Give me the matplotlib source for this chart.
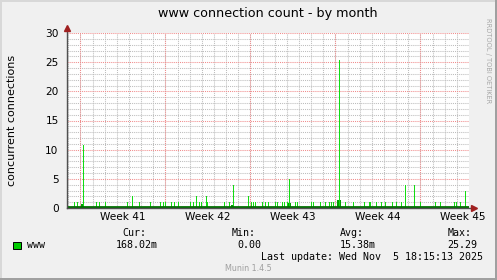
import numpy as np
import matplotlib
matplotlib.use("Agg")
import matplotlib.pyplot as plt

# data (x in days since graph start, 33 days shown)
range_days = 33.0
spike_days = [0.60, 0.85, 1.34, 2.34, 2.59, 3.14, 4.95, 5.36, 5.94, 6.84,
              7.66, 7.91, 8.07, 8.56, 8.81, 9.14, 10.12, 10.37, 10.61, 10.86,
              11.02, 11.44, 11.53, 12.91, 13.30, 13.65, 14.88, 15.10, 15.27, 15.43,
              16.03, 16.28, 16.50, 17.07, 17.20, 17.69, 17.85, 18.02, 18.22, 18.72,
              18.84, 20.07, 20.19, 20.79, 21.20, 21.51, 21.67, 21.84, 22.35, 22.86,
              23.50, 24.38, 24.83, 24.91, 25.34, 25.75, 26.13, 26.68, 27.03, 27.39,
              27.77, 28.51, 28.98, 30.23, 30.62, 31.79, 31.97, 32.30, 32.70]
spike_vals = [1, 1, 10.8, 1, 1, 1, 1, 2, 1, 1,
              1, 1, 1, 1, 1, 1, 1, 1, 2, 1,
              1, 2, 1, 1, 1, 4, 2, 1, 1, 1,
              1, 1, 1, 1, 1, 1, 1, 1, 5, 1,
              1, 1, 1, 1, 1, 1, 1, 1, 25.29, 1,
              1, 1, 1, 1, 1, 1, 1, 1, 1, 1,
              4, 4, 1, 1, 1, 1, 1, 1, 3]
# low wide plateaus
block_days = [1.30, 13.62, 18.25, 22.35]
block_vals = [0.7, 0.5, 0.8, 1.4]
block_width = [0.25, 0.25, 0.25, 0.35]
base_level = 0.12

week_starts = [1.1, 8.05, 15.05, 22.0, 28.98]
week_labels = ["Week 41", "Week 42", "Week 43", "Week 44", "Week 45"]
y_ticks = [0, 5, 10, 15, 20, 25, 30]

legend_name = "www"
cur_val, min_val, avg_val, max_val = "168.02m", "0.00", "15.38m", "25.29"
last_update = "Last update: Wed Nov  5 18:15:13 2025"

W, H = 497, 280
green = "#00cc00"
mono = "DejaVu Sans Mono"


def fx(x):
    return x / W


def fy(y):
    return 1 - y / H


fig = plt.figure(figsize=(W / 100, H / 100), dpi=100, facecolor="#f0f0f0")
ax = fig.add_axes([fx(67), fy(208), 402 / W, 175 / H])
ax.set_facecolor("white")
ax.set_xlim(0, range_days)
ax.set_ylim(0, 30)

# grid
dot = (0, (1, 1))
minor_x = np.arange(week_starts[0] - 1, range_days, 0.997)
for d in minor_x:
    ax.axvline(d, color="#bdbdbd", lw=0.75, ls=dot, zorder=1)
for d in week_starts:
    ax.axvline(d, color="#f08c8c", lw=0.75, ls=dot, zorder=1.5)
for v in range(1, 31):
    if v % 5:
        ax.axhline(v, color="#bdbdbd", lw=0.75, ls=dot, zorder=1)
for v in y_ticks[1:]:
    ax.axhline(v, color="#f08c8c", lw=0.75, ls=dot, zorder=1.5)

# data
ax.bar(block_days, block_vals, width=block_width, color="#00a000", zorder=3)
ax.vlines(spike_days, 0, spike_vals, color="#11dd11", lw=0.72, zorder=3,
          antialiased=False)
ax.axhline(base_level, color="#007000", lw=2.0, zorder=3)

for s in ax.spines.values():
    s.set_visible(False)
ax.set_xticks([d + 3.5 for d in week_starts])
ax.set_xticklabels(week_labels, fontsize=7.6)
ax.set_yticks(y_ticks)
ax.set_yticklabels([str(v) for v in y_ticks], fontsize=7.6)
ax.tick_params(axis="both", length=0, pad=3)
ax.tick_params(axis="y", pad=6)

# axes with arrows
ax.plot([0, 0], [0, 1.025], transform=ax.transAxes, color="#505050", lw=1.0,
        clip_on=False, zorder=4)
ax.plot([0, 1.01], [0, 0], transform=ax.transAxes, color="#505050", lw=1.0,
        clip_on=False, zorder=4)
ax.plot([0], [1.028], marker="^", ms=5, color="#a02020", transform=ax.transAxes,
        clip_on=False, zorder=5)
ax.plot([1.012], [0], marker=">", ms=5, color="#a02020", transform=ax.transAxes,
        clip_on=False, zorder=5)

# texts
fig.text(fx(268), fy(14), "www connection count - by month", ha="center",
         va="center", fontsize=9.2)
fig.text(fx(12), fy(120), "concurrent connections", ha="center", va="center",
         rotation=90, fontsize=8)
fig.text(fx(488), fy(61), "RRDTOOL / TOBI OETIKER", ha="center", va="center",
         rotation=270, fontsize=4.8, color="#a8a8a8")

fig.patches.append(plt.Rectangle((fx(13), fy(249)), 8 / W, 7 / H,
                                 transform=fig.transFigure, facecolor=green,
                                 edgecolor="black", lw=0.7))
fig.text(fx(27), fy(245), legend_name, fontsize=7.2, family=mono, va="center")
for lx, lab in [(122.7, "Cur:"), (231.7, "Min:"), (340, "Avg:"), (447.3, "Max:")]:
    fig.text(fx(lx), fy(232.5), lab, fontsize=7.2, family=mono, va="center")
for rx, val in [(158, cur_val), (261.7, min_val), (375.5, avg_val), (477.3, max_val)]:
    fig.text(fx(rx), fy(245), val, fontsize=7.2, family=mono, va="center",
             ha="right")
fig.text(fx(483), fy(257), last_update, fontsize=7.2, family=mono, va="center",
         ha="right")
fig.text(fx(248), fy(268.5), "Munin 1.4.5", fontsize=5.8, color="#a0a0a0",
         ha="center", va="center")

# frame shading
for (x0, y0, w, h, c) in [(0, 0, W, 2, "#d8d8d8"), (0, 0, 2, H, "#d8d8d8"),
                          (0, H - 2, W, 2, "#a0a0a0"), (W - 2, 0, 2, H, "#a0a0a0")]:
    fig.patches.append(plt.Rectangle((fx(x0), fy(y0 + h)), w / W, h / H,
                                     transform=fig.transFigure, facecolor=c,
                                     edgecolor="none"))

fig.savefig("out.png", dpi=100, facecolor=fig.get_facecolor())
